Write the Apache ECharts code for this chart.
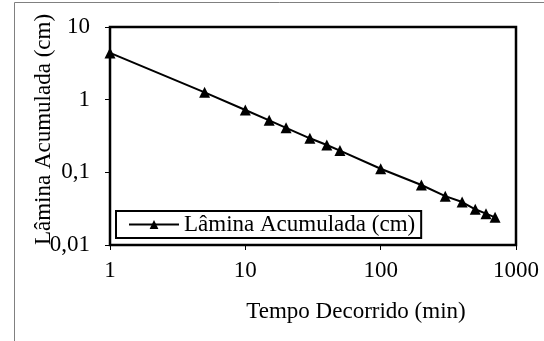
<!DOCTYPE html>
<html>
<head>
<meta charset="utf-8">
<script src="https://cdn.jsdelivr.net/npm/echarts@6/dist/echarts.min.js"></script>
<style>
  html, body { margin: 0; padding: 0; background: #fff; }
  #chart { width: 544px; height: 341px; }
</style>
</head>
<body>
<div id="chart"></div>
<script>
// elapsed time (min) and accumulated depth (cm)
const tempo = [1, 5, 10, 15, 20, 30, 40, 50, 100, 200, 300, 400, 500, 600, 700];
const lamina = [4.4, 1.26, 0.72, 0.52, 0.41, 0.294, 0.238, 0.199, 0.112, 0.067, 0.047, 0.039, 0.031, 0.027, 0.024];
const seriesName = "Lâmina Acumulada (cm)";
const xTitle = "Tempo Decorrido (min)";
const yTitle = "Lâmina Acumulada (cm)";

const font = "'Liberation Serif', 'Times New Roman', serif";
const fmt = (v) => String(Number(v.toPrecision(6))).replace(".", ",");

const chart = echarts.init(document.getElementById("chart"));
chart.setOption({
  animation: false,
  textStyle: { fontFamily: font, color: "#000" },
  graphic: [
    {
      type: "rect",
      shape: { x: 14.5, y: 2.5, width: 600, height: 400 },
      style: { fill: "none", stroke: "#808080", lineWidth: 1 },
      silent: true,
    },
  ],
  grid: {
    left: 110,
    right: 28,
    top: 27,
    bottom: 96,
    show: true,
    borderColor: "#000",
    borderWidth: 2.5,
  },
  legend: {
    left: 116,
    top: 211,
    orient: "horizontal",
    backgroundColor: "#fff",
    borderColor: "#000",
    borderWidth: 2,
    borderRadius: 0,
    padding: [2, 6, 2, 12],
    itemWidth: 50,
    itemHeight: 11,
    itemGap: 5,
    textStyle: { fontFamily: font, fontSize: 23, color: "#000" },
    data: [seriesName],
  },
  xAxis: {
    type: "log",
    logBase: 10,
    min: 1,
    max: 1000,
    name: xTitle,
    nameLocation: "middle",
    nameGap: 55,
    nameMoveOverlap: false,
    nameTextStyle: { fontFamily: font, fontSize: 23, color: "#000", padding: [0, 0, 0, 86] },
    axisLine: { show: true, lineStyle: { color: "#000", width: 2 } },
    axisTick: { show: true, inside: false, length: 5, lineStyle: { color: "#000", width: 1 } },
    minorTick: { show: false },
    axisLabel: { margin: 14, fontFamily: font, fontSize: 23, color: "#000", formatter: fmt },
    splitLine: { show: false },
  },
  yAxis: {
    type: "log",
    logBase: 10,
    min: 0.01,
    max: 10,
    name: yTitle,
    nameLocation: "middle",
    nameGap: 55,
    nameMoveOverlap: false,
    nameTextStyle: { fontFamily: font, fontSize: 23, color: "#000", padding: [0, 0, 0, 13] },
    axisLine: { show: true, lineStyle: { color: "#000", width: 2 } },
    axisTick: { show: true, inside: false, length: 5, lineStyle: { color: "#000", width: 1 } },
    axisLabel: { margin: 20, fontFamily: font, fontSize: 23, color: "#000", formatter: fmt },
    splitLine: { show: false },
  },
  series: [
    {
      name: seriesName,
      type: "line",
      data: tempo.map((t, i) => [t, lamina[i]]),
      symbol: "triangle",
      symbolSize: 11,
      showAllSymbol: true,
      lineStyle: { color: "#000", width: 2 },
      itemStyle: { color: "#000" },
    },
  ],
});
</script>
</body>
</html>
